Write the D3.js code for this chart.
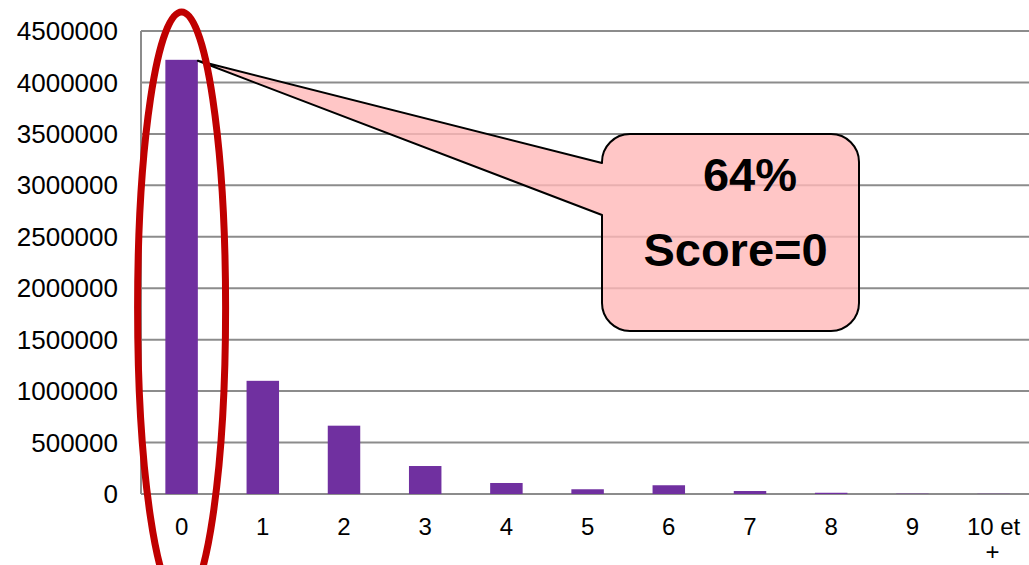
<!DOCTYPE html>
<html>
<head>
<meta charset="utf-8">
<script src="https://cdn.jsdelivr.net/npm/d3@7"></script>
<style>
  body { margin: 0; background: #fff; }
  svg { display: block; font-family: Arial, "Liberation Sans", sans-serif; }
</style>
</head>
<body>
<svg id="chart" width="1029" height="565"></svg>
<script>
// categories (score) and number of people per score
const scores = ['0', '1', '2', '3', '4', '5', '6', '7', '8', '9', '10 et +']
const counts = [4220000, 1100000, 664000, 272000, 107000, 46000, 85000, 29000, 12000, 3000, 2000]
const yTicks = [0, 500000, 1000000, 1500000, 2000000, 2500000, 3000000, 3500000, 4000000, 4500000]
const calloutLines = ['64%', 'Score=0']

const svg = d3.select('#chart')
const plotLeft = 141
const step = 81.2
const plotTop = 31
const plotBottom = 494

const x = d3.scaleBand()
  .domain(scores)
  .range([plotLeft, plotLeft + step * scores.length])
  .paddingInner(0.6)
  .paddingOuter(0.3)

const y = d3.scaleLinear()
  .domain([0, 4500000])
  .range([plotBottom, plotTop])

// gridlines
svg.append('g')
  .selectAll('line')
  .data(yTicks)
  .enter()
  .append('line')
  .attr('x1', plotLeft)
  .attr('x2', 1029)
  .attr('y1', d => y(d))
  .attr('y2', d => y(d))
  .attr('stroke', '#8c8c8c')
  .attr('stroke-width', 2)

// left axis line
svg.append('line')
  .attr('x1', plotLeft).attr('x2', plotLeft)
  .attr('y1', y(4500000)).attr('y2', y(0))
  .attr('stroke', '#8c8c8c')
  .attr('stroke-width', 2)

// y tick labels
svg.append('g')
  .selectAll('text')
  .data(yTicks)
  .enter()
  .append('text')
  .attr('x', 118)
  .attr('y', d => y(d))
  .attr('dy', '0.35em')
  .attr('text-anchor', 'end')
  .attr('font-size', 26)
  .attr('fill', '#000')
  .text(d => d)

// x tick labels (the last one wraps on two lines)
const xLabels = svg.append('g')
  .selectAll('text')
  .data(scores)
  .enter()
  .append('text')
  .attr('x', d => x(d) + x.bandwidth() / 2)
  .attr('y', 535)
  .attr('text-anchor', 'middle')
  .attr('font-size', 24)
  .attr('fill', '#000')

xLabels.each(function (d) {
  const parts = d === '10 et +' ? ['10 et', '+'] : [d]
  const t = d3.select(this)
  parts.forEach((p, i) => {
    t.append('tspan')
      .attr('x', x(d) + x.bandwidth() / 2 + (i === 0 ? 0 : -1))
      .attr('dy', i === 0 ? 0 : 25)
      .text(p)
  })
})

// bars
svg.append('g')
  .selectAll('rect')
  .data(counts)
  .enter()
  .append('rect')
  .attr('x', (d, i) => x(scores[i]))
  .attr('y', d => y(d))
  .attr('width', x.bandwidth())
  .attr('height', d => y(0) - y(d))
  .attr('fill', '#7030a0')

// callout box with pointer to the first bar
const tipX = x(scores[0]) + x.bandwidth()
const tipY = y(counts[0]) + 1
const bx0 = 602, bx1 = 859, by0 = 134, by1 = 331, r = 28
const pTop = 163, pBot = 215
const p = d3.path()
p.moveTo(bx0 + r, by0)
p.lineTo(bx1 - r, by0)
p.arcTo(bx1, by0, bx1, by0 + r, r)
p.lineTo(bx1, by1 - r)
p.arcTo(bx1, by1, bx1 - r, by1, r)
p.lineTo(bx0 + r, by1)
p.arcTo(bx0, by1, bx0, by1 - r, r)
p.lineTo(bx0, pBot)
p.lineTo(tipX, tipY)
p.lineTo(bx0, pTop)
p.lineTo(bx0, by0 + r)
p.arcTo(bx0, by0, bx0 + r, by0, r)
p.closePath()

svg.append('path')
  .attr('d', p.toString())
  .attr('fill', '#ffb8b8')
  .attr('fill-opacity', 0.8)
  .attr('stroke', '#000')
  .attr('stroke-width', 2)
  .attr('stroke-linejoin', 'round')

svg.append('g')
  .selectAll('text')
  .data(calloutLines)
  .enter()
  .append('text')
  .attr('x', (d, i) => i === 0 ? 750 : 735.5)
  .attr('y', (d, i) => i === 0 ? 191 : 266)
  .attr('text-anchor', 'middle')
  .attr('font-size', 47)
  .attr('font-weight', 'bold')
  .attr('fill', '#000')
  .text(d => d)

// red ellipse highlighting score 0
svg.append('ellipse')
  .attr('cx', x(scores[0]) + x.bandwidth() / 2)
  .attr('cy', 308)
  .attr('rx', 44)
  .attr('ry', 296)
  .attr('fill', 'none')
  .attr('stroke', '#c00000')
  .attr('stroke-width', 7)
</script>
</body>
</html>
